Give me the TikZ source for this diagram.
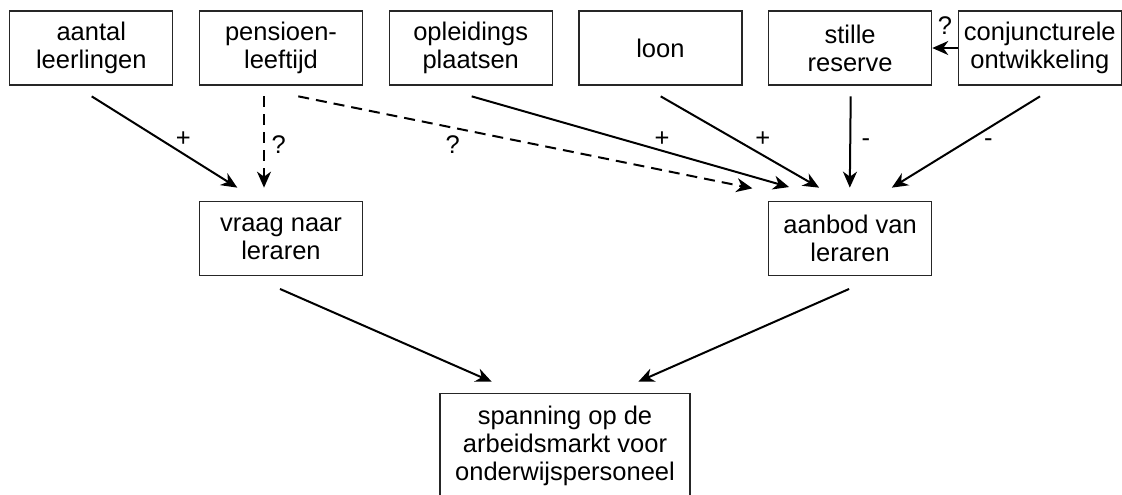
\documentclass[tikz,border=0pt]{standalone}
\usepackage{fontspec}
\setmainfont{Liberation Sans}
\usetikzlibrary{arrows.meta, positioning, calc}

\begin{document}
\begin{tikzpicture}[x=0.5pt,y=0.5pt,node distance=94.85pt,on grid,>={Stealth[length=8pt,width=7pt,inset=2.5pt]},
      every node/.style={font=\fontsize{12.75}{14}\selectfont},
      factor/.style={draw=black!85,line width=0.65pt,minimum width=81.5pt,minimum height=37pt,align=center,inner sep=0pt},
      link/.style={->,line width=1pt},
      unsure/.style={link,dash pattern=on 5.5pt off 3.5pt}]
      \useasboundingbox (0,0) rectangle (1122,-494);
      \node[factor] (leerlingen) at (91.3,-48) {aantal\\leerlingen};
      \node[factor] (pensioen) [right=of leerlingen] {pensioen-\\leeftijd};
      \node[factor] (opleiding) [right=of pensioen] {opleidings\\plaatsen};
      \node[factor] (loon) [right=of opleiding] {loon};
      \node[factor] (reserve) [right=of loon] {stille\\reserve};
      \node[factor] (conjunctuur) [right=of reserve] {conjuncturele\\ontwikkeling};
      \node[factor] (vraag) [below=95.35pt of pensioen] {vraag naar\\leraren};
      \node[factor] (aanbod) [below=95.35pt of reserve] {aanbod van\\leraren};
      \node[factor,minimum width=125pt,minimum height=52.5pt,anchor=north] (spanning) at (565,-392.7)
        {spanning op de\\arbeidsmarkt voor\\onderwijspersoneel};
      \draw[link] ($(leerlingen.south)+(0.4,-10.7)$) -- node[pos=0.63,above] {+} ($(vraag.north)+(-43.7,13.4)$);
      \draw[unsure] ($(pensioen.south)+(-17,-10.7)$) -- node[pos=0.53,right] {?} ($(vraag.north)+(-17,13.4)$);
      \draw[unsure] ($(pensioen.south)+(17.3,-10.7)$) -- node[pos=0.34,below] {?} ($(aanbod.north)+(-97.7,12.7)$);
      \draw[link] ($(opleiding.south)+(1,-10.7)$) -- node[pos=0.6,above=-1.5pt] {+} ($(aanbod.north)+(-61,14)$);
      \draw[link] ($(loon.south)+(0.3,-10.7)$) -- node[pos=0.644,above=0.7pt] {+} ($(aanbod.north)+(-31,13.4)$);
      \draw[link] ($(reserve.south)+(0.6,-10.7)$) -- node[pos=0.51,right=1.8pt] {-} ($(aanbod.north)+(-0.3,13.4)$);
      \draw[link] ($(conjunctuur.south)+(0.2,-10.7)$) -- node[pos=0.51,right=6pt] {-} ($(aanbod.north)+(41.7,13.4)$);
      \draw[link] (conjunctuur.west) -- node[midway,above=2.8pt] {?} (reserve.east);
      \draw[link] ($(vraag.south)+(-1,-12.6)$) -- ($(spanning.north)+(-73.3,11)$);
      \draw[link] ($(aanbod.south)+(-1,-12.6)$) -- ($(spanning.north)+(73.3,11)$);
    \end{tikzpicture}
\end{document}
